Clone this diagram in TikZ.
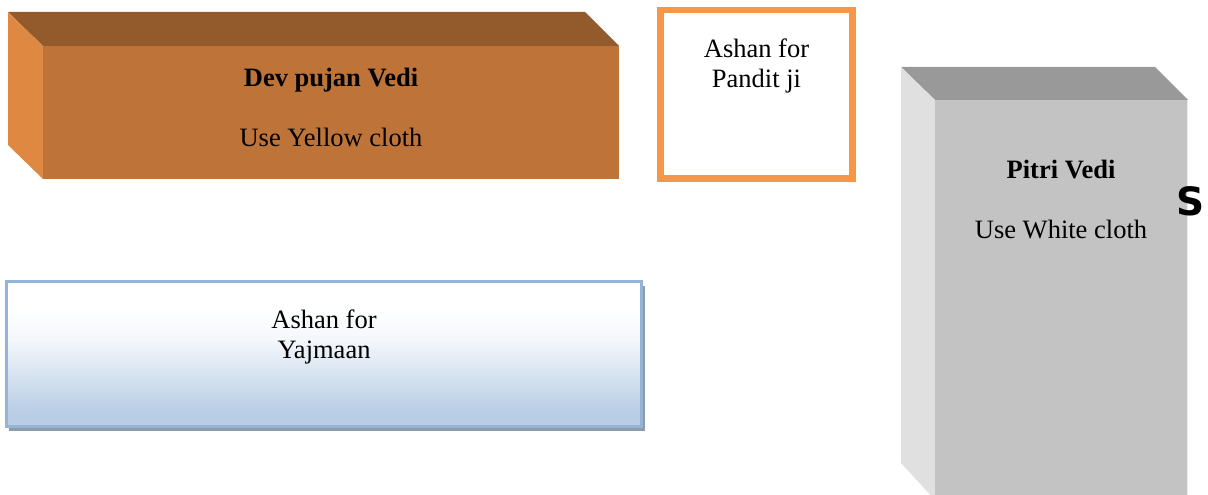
\documentclass[tikz,border=0pt]{standalone}
\usepackage{fontspec}
\setmainfont{Liberation Serif}
\newfontfamily\boldsans{DejaVu Sans}[BoldFont={DejaVu Sans Bold}]
\definecolor{devfront}{RGB}{190,116,56}
\definecolor{devtop}{RGB}{147,90,44}
\definecolor{devleft}{RGB}{222,136,65}
\definecolor{pitfront}{RGB}{195,195,195}
\definecolor{pittop}{RGB}{153,153,153}
\definecolor{pitleft}{RGB}{224,224,224}
\definecolor{panditorange}{RGB}{247,150,70}
\definecolor{yajborder}{RGB}{149,179,215}
\definecolor{yajbottom}{RGB}{185,205,229}
\definecolor{yajshadow}{RGB}{142,155,171}
\pgfdeclareverticalshading{yajshade}{100bp}{color(0bp)=(yajbottom); color(30bp)=(yajbottom); color(55bp)=(white!85!yajbottom); color(66bp)=(white); color(100bp)=(white)}
\tikzset{
  lbl/.style={anchor=base, inner sep=0pt, font=\fontsize{26.5}{30}\selectfont, text=black},
  lblb/.style={lbl, font=\fontsize{26.5}{30}\selectfont\bfseries},
}
\begin{document}
\begin{tikzpicture}[x=1pt,y=-1pt]
\useasboundingbox (0,0) rectangle (1208,495);
\clip (0,0) rectangle (1208,495);
% Dev pujan Vedi box
\fill[devtop] (8,12) -- (585,12) -- (619,46) -- (43,46) -- cycle;
\fill[devleft] (8,12) -- (43,46) -- (43,179) -- (8,145) -- cycle;
\fill[devfront] (43,46) rectangle (619,179);
\node[lblb] (devtitle) at (331,87) {Dev pujan Vedi};
\node[lbl] (devcloth) at (331,146) {Use Yellow cloth};
% Ashan for Pandit ji
\draw[panditorange, line width=6.5pt, fill=white] (660.5,10) rectangle (852.5,178.5);
\node[lbl] (pandit1) at (756.5,58) {Ashan for};
\node[lbl] (pandit2) at (756.5,88) {Pandit ji};
% Pitri Vedi box
\fill[pittop] (901,67) -- (1155,67) -- (1188,100) -- (935,100) -- cycle;
\fill[pitleft] (901,67) -- (935,100) -- (935,500) -- (901,463) -- cycle;
\fill[pitfront] (935,100) rectangle (1188,500);
\draw[white!92!black, line width=1.2pt] (1187.5,100) -- (1187.5,500);
\node[lblb] (pitrititle) at (1061,178) {Pitri Vedi};
\node[lbl] (pitricloth) at (1061,238) {Use White cloth};
\node[anchor=center, inner sep=0pt, font=\boldsans\bfseries\fontsize{39}{42}\selectfont] (sletter) at (1190.5,201.5) {S};
% Ashan for Yajmaan
\fill[yajshadow] (9,286) rectangle (645,431);
\shade[shading=yajshade] (6.5,281) rectangle (641.5,426);
\draw[yajborder, line width=3pt] (6.5,281) rectangle (641.5,426);
\node[lbl] (yaj1) at (324,328) {Ashan for};
\node[lbl] (yaj2) at (324,358) {Yajmaan};
\end{tikzpicture}
\end{document}
